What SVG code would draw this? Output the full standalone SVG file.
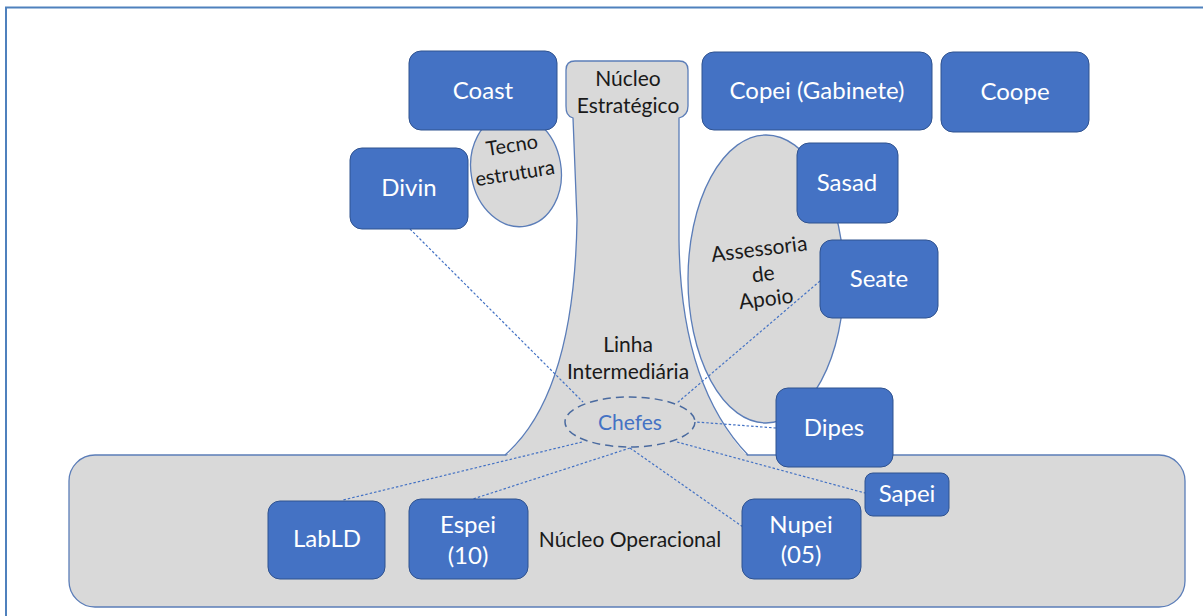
<svg xmlns="http://www.w3.org/2000/svg" width="1203" height="616" viewBox="0 0 1203 616">
<style>
.frame{fill:none;stroke:#4F81BD;stroke-width:2}
.gray{fill:#D9D9D9;stroke:#5B7DB8;stroke-width:1.3}
.box{fill:#4472C4;stroke:#2F528F;stroke-width:1}
.wt{font-family:Lato,"Liberation Sans",sans-serif;font-size:24px;fill:#FFFFFF;text-anchor:middle}
.bt{font-family:Lato,"Liberation Sans",sans-serif;font-size:21px;fill:#1A1A1A;text-anchor:middle}
.conn{fill:none;stroke:#4472C4;stroke-width:1.2;stroke-dasharray:2.5,2}
</style>
<rect class="frame" x="6" y="7.5" width="1215" height="625"/>
<g id="nucleo-operacional">
<rect class="gray" x="69" y="455" width="1116" height="152" rx="26" ry="26" stroke="#7D9AD0"/>
<text class="bt" x="630" y="547">Núcleo Operacional</text>
</g>
<g id="funil">
<path d="M573,118 C567,116 566,112 566,106 L566,70 Q566,61 575,61 L679,61 Q688,61 688,70 L688,106 C688,112 686,116 679,118 L679,240 C680,330 700,405 748,457 L505,457 C545,420 575,350 577,220 Z" fill="#D9D9D9" stroke="none"/>
<path d="M505,455 C545,420 575,350 577,220 L573,118 C567,116 566,112 566,106 L566,70 Q566,61 575,61 L679,61 Q688,61 688,70 L688,106 C688,112 686,116 679,118 L679,240 C680,330 700,405 748,455" fill="none" stroke="#5B7DB8" stroke-width="1.3"/>
<text class="bt" x="628" y="86">Núcleo</text>
<text class="bt" x="628" y="113">Estratégico</text>
<text class="bt" x="628" y="352">Linha</text>
<text class="bt" x="628" y="379">Intermediária</text>
</g>
<g id="tecnoestrutura">
<ellipse class="gray" cx="516" cy="170" rx="45" ry="57" transform="rotate(-10 516 170)"/>
<text class="bt" x="513" y="152" style="font-size:20px" transform="rotate(-9 513 152)">Tecno</text>
<text class="bt" x="516" y="180" style="font-size:20px" transform="rotate(-9 516 180)">estrutura</text>
</g>
<g id="assessoria">
<ellipse class="gray" cx="766" cy="279" rx="78" ry="144"/>
<text class="bt" x="760" y="256" transform="rotate(-7 760 256)">Assessoria</text>
<text class="bt" x="764" y="281" transform="rotate(-7 764 281)">de</text>
<text class="bt" x="767" y="306" transform="rotate(-7 767 306)">Apoio</text>
</g>
<g id="connectors">
<line class="conn" x1="410" y1="229" x2="583" y2="402"/>
<line class="conn" x1="820" y1="281" x2="677" y2="403"/>
<line class="conn" x1="776" y1="428" x2="696" y2="422"/>
<line class="conn" x1="677" y1="442" x2="865" y2="493"/>
<line class="conn" x1="630" y1="448" x2="743" y2="527"/>
<line class="conn" x1="582" y1="442" x2="343" y2="500"/>
<line class="conn" x1="630" y1="448" x2="473" y2="499"/>
</g>
<g id="chefes">
<ellipse cx="630" cy="422" rx="65" ry="25" fill="none" stroke="#4A6A9F" stroke-width="1.5" stroke-dasharray="8,5"/>
<text x="630" y="430" style="font-family:Lato,'Liberation Sans',sans-serif;font-size:21px;fill:#4472C4;text-anchor:middle">Chefes</text>
</g>
<g id="coast"><rect class="box" x="409" y="51" width="148" height="79" rx="12"/><text class="wt" x="483" y="99">Coast</text></g>
<g id="copei"><rect class="box" x="702" y="52" width="230" height="78" rx="12"/><text class="wt" x="817" y="99">Copei (Gabinete)</text></g>
<g id="coope"><rect class="box" x="941" y="52" width="148" height="80" rx="12"/><text class="wt" x="1015" y="100">Coope</text></g>
<g id="divin"><rect class="box" x="350" y="148" width="118" height="81" rx="12"/><text class="wt" x="409" y="196">Divin</text></g>
<g id="sasad"><rect class="box" x="797" y="143" width="101" height="80" rx="12"/><text class="wt" x="847" y="191">Sasad</text></g>
<g id="seate"><rect class="box" x="820" y="240" width="118" height="78" rx="12"/><text class="wt" x="879" y="287">Seate</text></g>
<g id="dipes"><rect class="box" x="776" y="388" width="117" height="79" rx="12"/><text class="wt" x="834" y="436">Dipes</text></g>
<g id="sapei"><rect class="box" x="865" y="473" width="84" height="43" rx="8"/><text class="wt" x="907" y="502">Sapei</text></g>
<g id="labld"><rect class="box" x="268" y="501" width="117" height="78" rx="12"/><text class="wt" x="327" y="547">LabLD</text></g>
<g id="espei"><rect class="box" x="409" y="499" width="119" height="80" rx="12"/><text class="wt" x="468" y="533">Espei</text><text class="wt" x="468" y="564">(10)</text></g>
<g id="nupei"><rect class="box" x="742" y="499" width="119" height="80" rx="12"/><text class="wt" x="801" y="533">Nupei</text><text class="wt" x="801" y="563">(05)</text></g>
</svg>
